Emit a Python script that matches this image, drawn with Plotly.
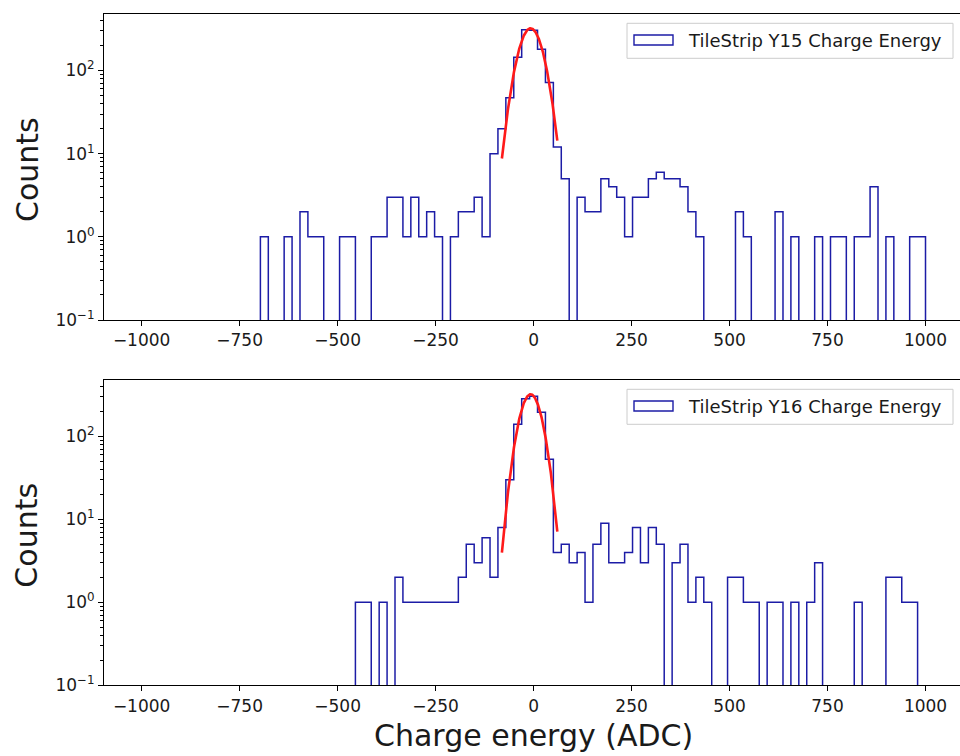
import numpy as np
import plotly.graph_objects as go

# Histogram binning: 99 equal bins spanning -1000 .. 1000 ADC
bin_edges = np.linspace(-1000, 1000, 100)
bin_centers = 0.5 * (bin_edges[:-1] + bin_edges[1:])

# Per-bin counts, TileStrip Y15
y15_counts = [
    0, 0, 0, 0, 0, 0, 0, 0, 0, 0,
    0, 0, 0, 0, 0, 1, 0, 0, 1, 0,
    2, 1, 1, 0, 0, 1, 1, 0, 0, 1,
    1, 3, 3, 1, 3, 1, 2, 1, 0, 1,
    2, 2, 3, 1, 10, 20, 47, 145, 310, 305,
    180, 72, 12, 5, 0, 3, 2, 2, 5, 4,
    3, 1, 3, 3, 5, 6, 5, 5, 4, 2,
    1, 0, 0, 0, 0, 2, 1, 0, 0, 0,
    2, 0, 1, 0, 0, 1, 0, 1, 1, 0,
    1, 1, 4, 0, 1, 0, 0, 1, 1,
]

# Per-bin counts, TileStrip Y16
y16_counts = [
    0, 0, 0, 0, 0, 0, 0, 0, 0, 0,
    0, 0, 0, 0, 0, 0, 0, 0, 0, 0,
    0, 0, 0, 0, 0, 0, 0, 1, 1, 0,
    1, 0, 2, 1, 1, 1, 1, 1, 1, 1,
    2, 5, 3, 6, 2, 8, 30, 140, 285, 305,
    195, 53, 4, 5, 3, 4, 1, 5, 9, 3,
    3, 4, 8, 3, 8, 5, 0, 3, 5, 1,
    2, 1, 0, 0, 2, 2, 1, 1, 0, 1,
    1, 0, 1, 0, 1, 3, 0, 0, 0, 0,
    1, 0, 0, 0, 2, 2, 1, 1, 0,
]

# Gaussian fit parameters (amplitude, mean, sigma) for each strip
y15_fit = (322.0, -7.5, 27.3)
y16_fit = (322.0, -7.6, 24.7)
fit_bins = (45, 52)  # first / last bin centre covered by the fit curve

legend_labels = ["TileStrip Y15 Charge Energy", "TileStrip Y16 Charge Energy"]
x_ticks = [-1000, -750, -500, -250, 0, 250, 500, 750, 1000]
y_ticks = [0.1, 1, 10, 100]
y_tick_text = ["10<sup>\u22121</sup>", "10<sup>0</sup>", "10<sup>1</sup>", "10<sup>2</sup>"]

HIST_COLOR = "#1c1ca6"
FIT_COLOR = "#ff1a1a"
FONT = "DejaVu Sans"
W, H = 960, 756
L_MARGIN = 104


def step_outline(counts):
    """Outline of a step histogram; empty bins drop below the log axis."""
    c = np.asarray(counts, dtype=float)
    c = np.where(c > 0, c, 1e-3)
    xs = np.concatenate([[bin_edges[0]], bin_edges[:-1], [bin_edges[-1]]])
    ys = np.concatenate([[1e-3], c, [1e-3]])
    return xs, ys


def gauss_curve(params):
    amp, mu, sigma = params
    x = np.linspace(bin_centers[fit_bins[0]], bin_centers[fit_bins[1]], 200)
    return x, amp * np.exp(-0.5 * ((x - mu) / sigma) ** 2)


def px(x):
    return (x - L_MARGIN) / (W - L_MARGIN)


def py(y):
    return 1 - y / H


fig = go.Figure()
panels = [("x", "y", y15_counts, y15_fit), ("x2", "y2", y16_counts, y16_fit)]
for xa, ya, counts, fit in panels:
    hx, hy = step_outline(counts)
    fig.add_trace(go.Scatter(x=hx, y=hy, mode="lines", line_shape="hv",
                             line=dict(color=HIST_COLOR, width=1.5),
                             xaxis=xa, yaxis=ya, showlegend=False, hoverinfo="skip"))
    fx, fy = gauss_curve(fit)
    fig.add_trace(go.Scatter(x=fx, y=fy, mode="lines",
                             line=dict(color=FIT_COLOR, width=2.6),
                             xaxis=xa, yaxis=ya, showlegend=False, hoverinfo="skip"))

minor_vals = [m * 10.0 ** k for k in range(-1, 3) for m in range(2, 10)]

xaxis_common = dict(
    range=[-1096, 1088], tickvals=x_ticks,
    ticktext=[("\u2212" + str(-v)) if v < 0 else str(v) for v in x_ticks],
    ticks="outside", ticklen=5, tickwidth=1, tickcolor="black",
    showline=True, linecolor="black", linewidth=1, mirror=True,
    showgrid=False, zeroline=False, automargin=False,
    tickfont=dict(family=FONT, size=17, color="#1a1a1a"),
    domain=[0, 1],
)
yaxis_common = dict(
    type="log", range=[-1, 2.68], tickvals=y_ticks, ticktext=y_tick_text,
    ticks="outside", ticklen=5, tickwidth=1, tickcolor="black",
    minor=dict(tickvals=minor_vals, ticks="outside", ticklen=3,
               tickwidth=1, tickcolor="black", showgrid=False),
    showline=True, linecolor="black", linewidth=1, mirror=False,
    showgrid=False, zeroline=False, automargin=False,
    tickfont=dict(family=FONT, size=17, color="#1a1a1a"),
)

# panel extents in pixels (top, bottom)
panel_px = [(14, 320), (380, 685.3)]

fig.update_layout(
    width=W, height=H,
    margin=dict(l=L_MARGIN, r=0, t=0, b=0, autoexpand=False),
    paper_bgcolor="white", plot_bgcolor="white",
    showlegend=False,
    xaxis=dict(xaxis_common, anchor="y"),
    yaxis=dict(yaxis_common, anchor="x", domain=[py(panel_px[0][1]), py(panel_px[0][0])]),
    xaxis2=dict(xaxis_common, anchor="y2"),
    yaxis2=dict(yaxis_common, anchor="x2", domain=[py(panel_px[1][1]), py(panel_px[1][0])]),
)

shapes = []
annotations = []
for i, (top, bottom) in enumerate(panel_px):
    # y-axis title
    annotations.append(dict(
        text="Counts", x=px(27), y=py((top + bottom) / 2 + 3),
        xref="paper", yref="paper", xanchor="center", yanchor="middle",
        textangle=-90, showarrow=False,
        font=dict(family=FONT, size=30, color="#1a1a1a")))
    # legend frame
    box_top = top + 9.3
    shapes.append(dict(type="rect", xref="paper", yref="paper",
                       x0=px(627), x1=px(953), y0=py(box_top + 35), y1=py(box_top),
                       line=dict(color="#cccccc", width=1), fillcolor="rgba(255,255,255,0.8)",
                       layer="above"))
    # legend patch
    shapes.append(dict(type="rect", xref="paper", yref="paper",
                       x0=px(634), x1=px(673), y0=py(box_top + 21.7), y1=py(box_top + 11.7),
                       line=dict(color=HIST_COLOR, width=1.4), fillcolor="rgba(0,0,0,0)",
                       layer="above"))
    annotations.append(dict(
        text=legend_labels[i], x=px(686), y=py(box_top + 17),
        xref="paper", yref="paper", xanchor="left", yanchor="middle",
        showarrow=False, font=dict(family=FONT, size=18, color="#1a1a1a")))

annotations.append(dict(
    text="Charge energy (ADC)", x=px(533), y=py(735),
    xref="paper", yref="paper", xanchor="center", yanchor="middle",
    showarrow=False, font=dict(family=FONT, size=30, color="#1a1a1a")))

fig.update_layout(shapes=shapes, annotations=annotations)
fig.write_html("out.html")
